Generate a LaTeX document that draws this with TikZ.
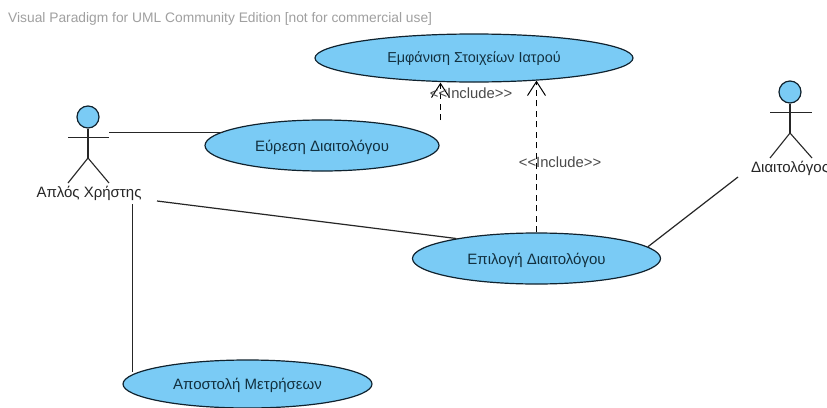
\documentclass[tikz,border=0pt]{standalone}
\usepackage{fontspec}
\setmainfont{Liberation Sans}
\usetikzlibrary{shapes.geometric,arrows.meta}
\definecolor{ucfill}{HTML}{7ACBF5}
\definecolor{ucline}{HTML}{10222E}
\definecolor{uctext}{HTML}{12303F}
\definecolor{wmark}{HTML}{A0A0A0}
\definecolor{inclabel}{HTML}{4A4A4A}
\tikzset{
  x=1pt,y=-1pt,
  usecase/.style={ellipse,draw=ucline,line width=1.2pt,fill=ucfill,inner sep=0pt,text=uctext,text height=11pt,text depth=0pt,font=\fontsize{15}{17}\selectfont},
  assoc/.style={draw=black!85,line width=1.2pt},
  incl/.style={draw=black,line width=1.2pt,dash pattern=on 6pt off 4.5pt,-{Straight Barb[length=14pt,width=18pt,line width=1pt]}},
  limb/.style={draw=black!85,line width=1.1pt},
  acthead/.style={circle,draw=ucline,line width=1.2pt,fill=ucfill,inner sep=0pt,minimum size=22pt},
  actlabel/.style={inner sep=0pt,text=black!85,font=\fontsize{15}{17}\selectfont},
  incllabel/.style={inner sep=0pt,text=inclabel,font=\fontsize{14.8}{17}\selectfont},
  wmarklabel/.style={inner sep=0pt,anchor=west,text=wmark,font=\fontsize{13.8}{16}\selectfont}
}
\begin{document}
\begin{tikzpicture}
\useasboundingbox (0,0) rectangle (827,407);
\fill[white] (0,0) rectangle (827,407);
\node[wmarklabel] (wm) at (8,19) {Visual Paradigm for UML Community Edition [not for commercial use]};
% use cases
\node[usecase,minimum width=318pt,minimum height=48pt,text depth=3pt,font=\fontsize{14.4}{17}\selectfont] (show) at (474,58) {Εμφάνιση Στοιχείων Ιατρού};
\node[usecase,minimum width=234pt,minimum height=51pt] (find) at (322,145.5) {Εύρεση Διαιτολόγου};
\node[usecase,minimum width=248pt,minimum height=51pt] (pick) at (536.5,258.5) {Επιλογή Διαιτολόγου};
\node[usecase,minimum width=249pt,minimum height=48pt] (send) at (247.5,384) {Αποστολή Μετρήσεων};
% actor 1
\node[acthead] (h1) at (88,117) {};
\coordinate (n1) at (88,137.5);
\coordinate (c1) at (88,158);
\draw[limb] (h1.south) -- (c1);
\draw[limb] (68,137.5) -- (n1) -- (109,137.5);
\draw[limb] (68,183) -- (c1) -- (109,183);
\node[actlabel] (a1) at (89,193.5) {Απλός Χρήστης};
% actor 2
\node[acthead] (h2) at (790,92) {};
\coordinate (c2) at (790,133);
\draw[limb] (h2.south) -- (c2);
\draw[limb] (770,112.5) -- (812,112.5);
\draw[limb] (770,158) -- (c2) -- (812,158);
\node[actlabel,anchor=west] (a2) at (751,168.5) {Διαιτολόγος};
% free ends
\coordinate (a1find) at (109,132.5);
\coordinate (a1pick) at (157,201);
\coordinate (a1send) at (132.5,204);
\coordinate (a2pick) at (738,177);
\coordinate (inc1) at (440.5,120);
% associations
\draw[assoc] (a1find) -- (a1find -| find.172.7);
\draw[assoc] (a1pick) -- (pick.166);
\draw[assoc] (a1send) -- (a1send |- send.174);
\draw[assoc] (a2pick) -- (pick.6.6);
% includes
\draw[incl] (inc1) -- (inc1 |- show.south);
\draw[incl] (pick.90) -- (pick.90 |- show.340.4);
\node[incllabel] (l1) at (471,93.5) {<{}<Include>{}>};
\node[incllabel] (l2) at (560,162.5) {<{}<Include>{}>};
\end{tikzpicture}
\end{document}
